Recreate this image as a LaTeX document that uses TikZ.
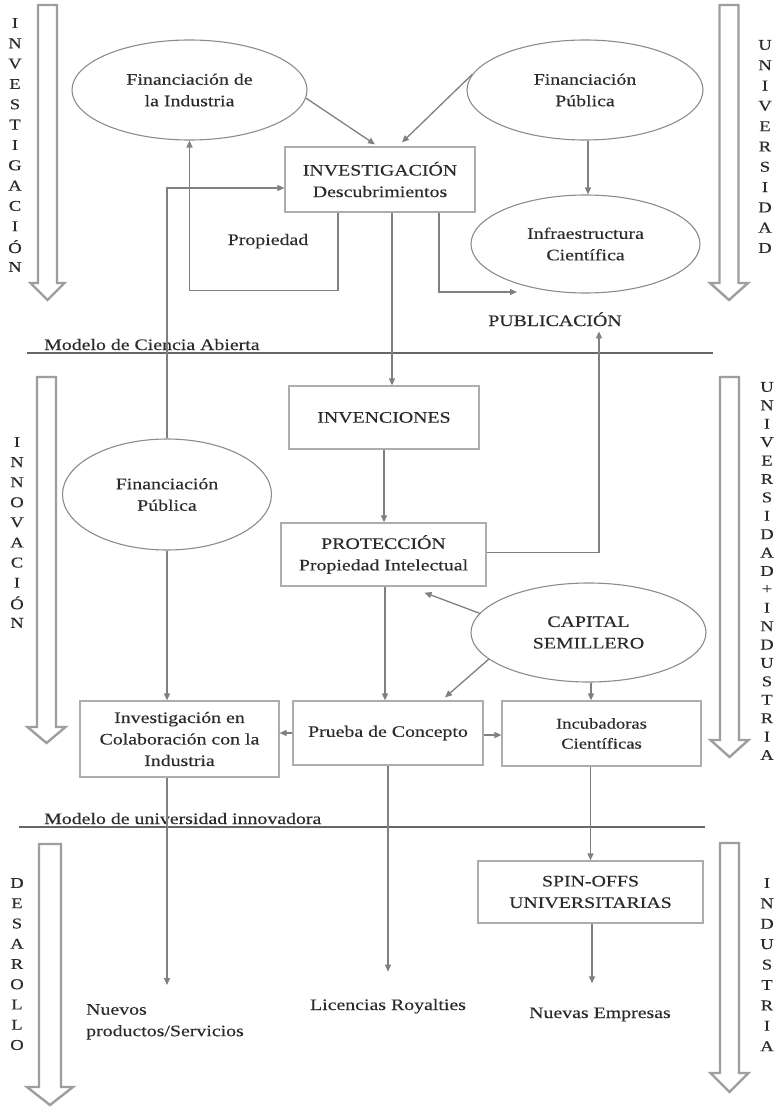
\documentclass[tikz,border=0pt]{standalone}
\usepackage{fontspec}
\setmainfont{Liberation Serif}[FakeStretch=1.24,FakeBold=0.25]
\usetikzlibrary{arrows.meta,shapes.geometric}
\definecolor{txt}{gray}{0.17}
\definecolor{ln}{gray}{0.5}
\definecolor{bx}{gray}{0.68}
\definecolor{el}{gray}{0.55}
\definecolor{ba}{gray}{0.62}
\definecolor{sep}{gray}{0.4}
\newcommand\myblockarrow[6]{% cx, half shaft, top, head base, tip, half head
  \draw[barrow] ({#1-#2},#3) -- ({#1+#2},#3) -- ({#1+#2},#4) -- ({#1+#6},#4) -- (#1,#5) -- ({#1-#6},#4) -- ({#1-#2},#4) -- cycle;}
\newcommand\myvletters[5]{% name, x, y0, dy, list
  \foreach \l [count=\i] in {#5} {\node[vlet] (#1\i) at (#2,{#3+(\i-1)*#4}) {\l};}}
\begin{document}
\begin{tikzpicture}[x=1pt,y=-1pt,
  every node/.style={text=txt, font=\fontsize{16}{21.5}\selectfont},
  boxn/.style={draw=bx, line width=1.2pt, rectangle, inner sep=0pt, align=center},
  elln/.style={draw=el, line width=1.1pt, ellipse, inner sep=0pt, align=center},
  conn/.style={draw=ln, line width=1.3pt, -{Triangle[length=7pt,width=6pt]}},
  lbl/.style={inner sep=1pt, align=center},
  vlet/.style={inner sep=0pt, font=\fontsize{15}{15}\selectfont},
  barrow/.style={draw=ba, line width=2.4pt, line join=miter},
  sepline/.style={draw=sep, line width=1.6pt}]
\fill[white] (0,0) rectangle (778,1107);
\useasboundingbox (0,0) rectangle (778,1107);

% block arrows
\myblockarrow{47.5}{9.5}{5}{283}{300}{17}
\myblockarrow{729}{9.5}{5}{283}{300}{19}
\myblockarrow{46.5}{9.5}{377}{727}{743}{19}
\myblockarrow{729.5}{9.5}{377}{740}{757}{19}
\myblockarrow{50}{11}{844}{1087}{1105}{23}
\myblockarrow{729.5}{9.5}{843}{1073}{1092}{19}

% vertical letters
\myvletters{va}{15}{23}{20.33}{I,N,V,E,S,T,I,G,A,C,I,Ó,N}
\myvletters{vb}{765}{45}{20.3}{U,N,I,V,E,R,S,I,D,A,D}
\myvletters{vc}{17}{442}{20.1}{I,N,N,O,V,A,C,I,Ó,N}
\myvletters{vd}{767}{387}{18.4}{U,N,I,V,E,R,S,I,D,A,D,+,I,N,D,U,S,T,R,I,A}
\myvletters{ve}{17}{883}{20.25}{D,E,S,A,R,O,L,L,O}
\myvletters{vf}{767}{883}{20.4}{I,N,D,U,S,T,R,I,A}

% separators
\draw[sepline] (27,353) -- (713,353);
\draw[sepline] (19,827) -- (705,827);
\node[lbl, anchor=base west] (m1) at (43,350) {Modelo de Ciencia Abierta};
\node[lbl, anchor=base west] (m2) at (43,824) {Modelo de universidad innovadora};

% nodes
\node[elln, minimum width=235pt, minimum height=100pt] (fi) at (189.5,90) {Financiación de\\la Industria};
\node[elln, minimum width=236pt, minimum height=100pt] (fp) at (585,90) {Financiación\\Pública};
\node[boxn, minimum width=190pt, minimum height=65pt] (inv) at (380,179.5) {INVESTIGACIÓN\\Descubrimientos};
\node[elln, minimum width=229pt, minimum height=98pt] (infra) at (585.5,244) {Infraestructura\\Científica};
\node[lbl, anchor=base] (prop) at (268,245) {Propiedad};
\node[lbl, anchor=base] (pub) at (555,326) {PUBLICACIÓN};
\coordinate (pa) at (517,292);

\node[boxn, minimum width=190pt, minimum height=63pt] (invc) at (384,417.5) {INVENCIONES};
\node[elln, minimum width=209pt, minimum height=111pt] (fp2) at (167,494.5) {Financiación\\Pública};
\node[boxn, minimum width=205pt, minimum height=63pt] (prot) at (383.5,554.5) {PROTECCIÓN\\Propiedad Intelectual};
\node[elln, minimum width=235pt, minimum height=99pt] (cap) at (588.5,632.5) {CAPITAL\\SEMILLERO};
\node[boxn, minimum width=190pt, minimum height=64pt] (prueba) at (388,733) {Prueba de Concepto};
\node[boxn, minimum width=199pt, minimum height=76pt] (icol) at (179.5,739) {Investigación en\\Colaboración con la\\Industria};
\node[boxn, minimum width=199pt, minimum height=65pt, font=\fontsize{15}{20}\selectfont] (incu) at (601.5,733.5) {Incubadoras\\Científicas};
\node[boxn, minimum width=225pt, minimum height=62pt] (spin) at (590.5,892) {SPIN-OFFS\\UNIVERSITARIAS};

\node[lbl, anchor=north west, align=left] (nps) at (85,1003) {Nuevos\\productos/Servicios};
\node[lbl, anchor=base] (lic) at (388,1010) {Licencias Royalties};
\node[lbl, anchor=base] (ne) at (600,1018) {Nuevas Empresas};

% connectors
\draw[conn] (fi.-4) -- ([xshift=-5pt,yshift=2pt]inv.north);
\draw[conn] (fp.172) -- ([xshift=22pt,yshift=4pt]inv.north);
\draw[conn] ([xshift=3pt]fp.south) -- ([xshift=3pt]fp.south |- infra.north);
\draw[conn] ([xshift=-42pt]inv.south) -- ++(0,78) -| (fi.south);
\draw[conn] (fp2.north) |- ([yshift=-8.5pt]inv.west);
\draw[conn] ([xshift=12pt]inv.south) -- ([xshift=12pt]inv.south |- invc.north);
\draw[conn] ([xshift=59pt]inv.south) |- (pa);
\draw[conn] (invc.south) -- (invc.south |- prot.north);
\draw[conn, shorten >=4pt] ([yshift=2pt]prot.east) -| ([xshift=44pt]pub.south);
\draw[conn] (cap.170) -- ([xshift=41pt,yshift=-6pt]prot.south);
\draw[conn] (cap.195) -- ([xshift=57pt,yshift=3pt]prueba.north);
\draw[conn] ([xshift=2.5pt]cap.south) -- ([xshift=2.5pt]cap.south |- incu.north);
\draw[conn] ([xshift=1.5pt]prot.south) -- ([xshift=1.5pt]prot.south |- prueba.north);
\draw[conn] (prueba.west) -- (prueba.west -| icol.east);
\draw[conn] ([yshift=-2pt]prueba.east) -- ([yshift=-2pt]prueba.east -| incu.west);
\draw[conn] (fp2.south) -- (fp2.south |- icol.north);
\draw[conn, shorten >=18pt] (icol.south -| fp2.south) -- (fp2.south |- nps.north);
\draw[conn, shorten >=26pt] (prueba.south) -- (prueba.south |- lic.north);
\draw[conn] ([xshift=-11pt]incu.south) -- ([xshift=-11pt]incu.south |- spin.north);
\draw[conn, shorten >=23pt] ([xshift=1.5pt]spin.south) -- ([xshift=1.5pt]spin.south |- ne.north);
\end{tikzpicture}
\end{document}
